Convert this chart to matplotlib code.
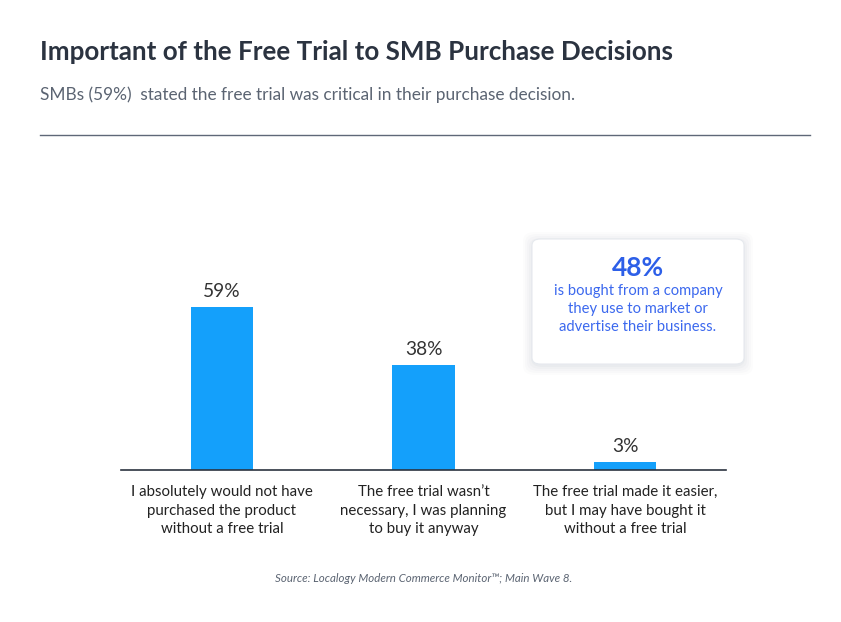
import matplotlib
matplotlib.use("Agg")
import matplotlib.pyplot as plt
from matplotlib.patches import FancyBboxPatch
from matplotlib.lines import Line2D

categories = [
    "I absolutely would not have\npurchased the product\nwithout a free trial",
    "The free trial wasn\u2019t\nnecessary, I was planning\nto buy it anyway",
    "The free trial made it easier,\nbut I may have bought it\nwithout a free trial",
]
values = [59, 38, 3]
value_labels = ["59%", "38%", "3%"]

title = "Important of the Free Trial to SMB Purchase Decisions"
subtitle = "SMBs (59%)  stated the free trial was critical in their purchase decision."
source = "Source: Localogy Modern Commerce Monitor\u2122; Main Wave 8."
callout_big = "48%"
callout_text = "is bought from a company\nthey use to market or\nadvertise their business."

plt.rcParams['font.family'] = ['Lato', 'DejaVu Sans']

W, H = 841, 622
fig = plt.figure(figsize=(W / 100, H / 100), dpi=100)
fig.patch.set_facecolor("white")

def fx(px):
    return px / W

def fy(py):
    return 1 - py / H

# Title, subtitle, rule
fig.text(fx(40), fy(52), title, fontsize=18.7, fontweight="bold", color="#2b3340",
         ha="left", va="center")
fig.text(fx(40), fy(95), subtitle, fontsize=12.4, color="#5b6472", ha="left", va="center")
fig.add_artist(Line2D([fx(40), fx(810)], [fy(135), fy(135)], color="#5f6878",
                      linewidth=1.0, transform=fig.transFigure))

# Bar axes
ax = fig.add_axes([fx(121), fy(470), fx(726) - fx(121), (470 - 194) / H])
x = list(range(len(values)))
ax.bar(x, values, width=0.31, color="#14a0fb")
ax.set_xlim(-0.5, 2.5)
ax.set_ylim(0, 100)
for s in ["top", "right", "left"]:
    ax.spines[s].set_visible(False)
ax.spines["bottom"].set_color("#2b3340")
ax.spines["bottom"].set_linewidth(1.2)
ax.set_yticks([])
ax.set_xticks(x)
ax.set_xticklabels(categories, fontsize=10.8, color="#222222", linespacing=1.4)
ax.tick_params(axis="x", length=0, pad=11)
for xi, v, lab in zip(x, values, value_labels):
    ax.annotate(lab, (xi, v), xytext=(0, 5), textcoords="offset points",
                ha="center", va="bottom", fontsize=13.8, color="#333333")

# Callout box with soft shadow
for off, a in [(9, 0.025), (7, 0.03), (5, 0.035), (3, 0.04), (1, 0.05)]:
    sh = FancyBboxPatch((fx(532 - off), fy(364 + off + 2)),
                        fx(744 + off) - fx(532 - off), fy(239 - off + 2) - fy(364 + off + 2),
                        boxstyle="round,pad=0,rounding_size=0.014",
                        transform=fig.transFigure, facecolor="#8a94a6", edgecolor="none",
                        alpha=a)
    fig.add_artist(sh)
box = FancyBboxPatch((fx(532), fy(364)), fx(744) - fx(532), fy(239) - fy(364),
                     boxstyle="round,pad=0,rounding_size=0.01",
                     transform=fig.transFigure, facecolor="white",
                     edgecolor="#e6e9ee", linewidth=0.8)
fig.add_artist(box)
fig.text(fx(638), fy(268), callout_big, fontsize=19, fontweight="bold", color="#2d5fe8",
         ha="center", va="center")
fig.text(fx(638), fy(309), callout_text, fontsize=10.6, color="#3b68ee",
         ha="center", va="center", linespacing=1.4)

# Source
fig.text(fx(424), fy(578), source, fontsize=8.3, style="italic", color="#5b6472",
         ha="center", va="center")

fig.savefig("out.png", dpi=100, facecolor="white")
